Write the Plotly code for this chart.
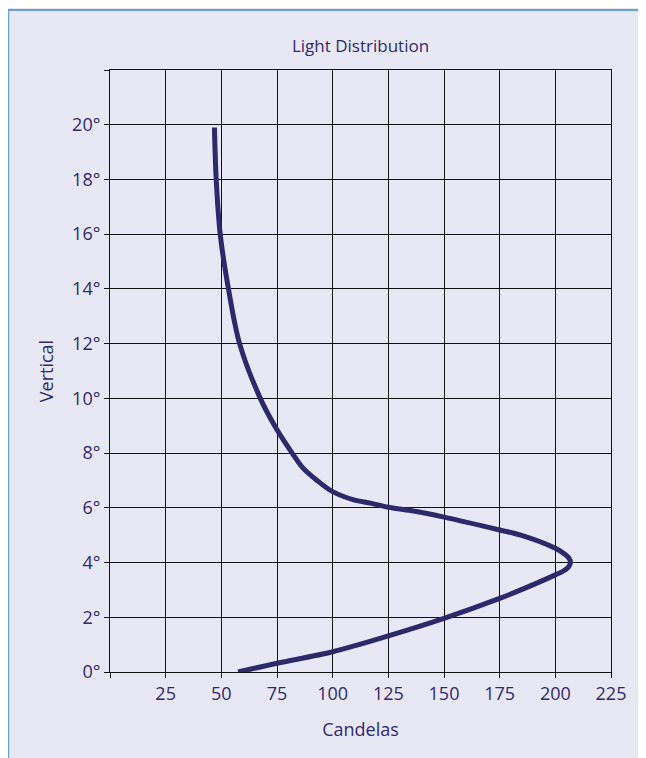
import plotly.graph_objects as go

# Data (candelas vs vertical angle in degrees)
candelas = [57.5, 75, 100, 125, 150, 175, 184.5, 200, 203.8, 206.0, 206.8, 206.2, 204.3, 200, 184.5, 175, 150, 135, 125, 117, 109.5, 100, 93, 86.5, 81.8, 75, 67.5, 58.2, 53.2, 49.5, 47.7, 46.9]
degrees = [0.0, 0.32, 0.74, 1.32, 1.96, 2.69, 3.0, 3.55, 3.7, 3.85, 4.0, 4.15, 4.3, 4.52, 5.0, 5.19, 5.66, 5.9, 6.02, 6.17, 6.29, 6.59, 7.0, 7.47, 8.0, 8.85, 10.0, 12.0, 14.0, 16.0, 18.0, 19.9]

x_ticks = [0, 25, 50, 75, 100, 125, 150, 175, 200, 225]
x_labels = ["", "25", "50", "75", "100", "125", "150", "175", "200", "225"]
y_ticks = [0, 2, 4, 6, 8, 10, 12, 14, 16, 18, 20, 22]
y_labels = ["0°", "2°", "4°", "6°", "8°", "10°", "12°", "14°", "16°", "18°", "20°", ""]

TXT = "#2e2a6e"
BG = "#e8e8f4"
FONT = "'Open Sans', sans-serif"

W, H = 646, 758
L, R, T, B = 102, 43, 62, 94
pw, ph = W - L - R, H - T - B

fig = go.Figure()
fig.add_trace(go.Scatter(
    x=candelas, y=degrees, mode="lines",
    line=dict(color="#2d2a6b", width=5, shape="spline", smoothing=0.9),
    hoverinfo="skip", showlegend=False,
))

axis_common = dict(
    showgrid=True, gridcolor="#111111", gridwidth=1,
    showline=True, linecolor="#111111", linewidth=1, mirror=True,
    ticks="outside", ticklen=5, tickcolor="#111111", tickwidth=1,
    zeroline=False,
    tickfont=dict(family=FONT, size=18, color=TXT),
)

fig.update_layout(
    width=W, height=H,
    margin=dict(l=L, r=R, t=T, b=B),
    paper_bgcolor=BG, plot_bgcolor=BG,
    font=dict(family=FONT, color=TXT),
    title=dict(text="Light Distribution", x=(L + pw / 2) / W, xanchor="center",
               y=1 - 38 / H, yanchor="middle",
               font=dict(family=FONT, size=17, color=TXT)),
    xaxis=dict(range=[0, 225], tickvals=x_ticks, ticktext=x_labels,
               title=dict(text="Candelas", font=dict(family=FONT, size=18, color=TXT), standoff=19),
               **axis_common),
    yaxis=dict(range=[0, 22], tickvals=y_ticks, ticktext=y_labels,
               title=dict(text="Vertical", font=dict(family=FONT, size=18, color=TXT), standoff=13),
               **axis_common),
)

# blue frame lines at the top and left edges of the figure
def px_x(p):
    return (p - L) / pw

def px_y(p):
    return 1 - (p - T) / ph

fig.add_shape(type="line", xref="paper", yref="paper",
              x0=px_x(0), x1=px_x(W + 2), y0=px_y(2), y1=px_y(2),
              line=dict(color="#3b88c0", width=1.5), layer="above")
fig.add_shape(type="line", xref="paper", yref="paper",
              x0=px_x(0.5), x1=px_x(0.5), y0=px_y(2), y1=px_y(H + 2),
              line=dict(color="#6aa6cc", width=1.5), layer="above")

fig.write_html("out.html")
